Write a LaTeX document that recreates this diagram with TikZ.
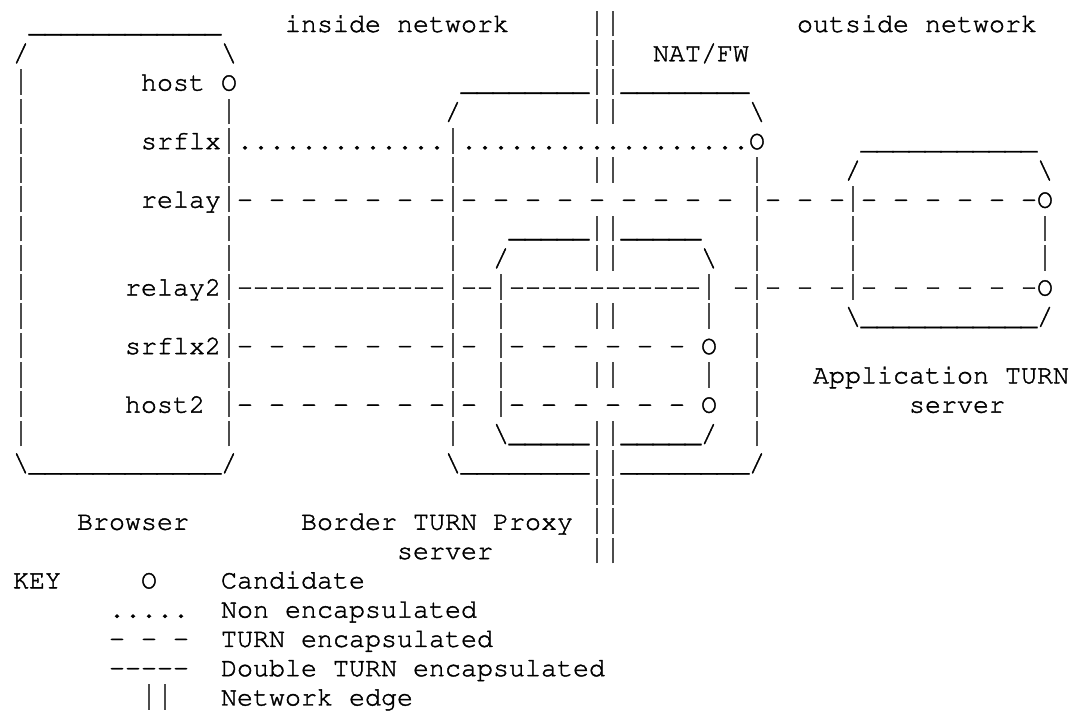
\documentclass[tikz,border=0pt]{standalone}
\usepackage[T1,TU]{fontenc}
\usepackage{tikz}
\newcommand\asciifont{\fontencoding{T1}\fontfamily{pcr}\fontseries{m}\fontshape{n}\fontsize{20}{22}\selectfont
  \special{pdf:code 2 Tr 0.3 w}}
\tikzset{
  ascii/.style={anchor=base west,inner sep=0pt,outer sep=0pt,font=\asciifont},
  bar/.style={draw=black!70,line width=1.5pt},
}

\begin{document}
\begin{tikzpicture}[x=12pt,y=-21.96pt]
  \path[fill=white,use as bounding box] (0pt,0pt) rectangle (807.75pt,-533.25pt);
  \begin{scope}[shift={(9.75pt,-2.04pt)}]
  % headings
  \node[ascii] (inside) at (17,1) {inside network};
  \node[ascii] (outside) at (49,1) {outside network};
  \node[ascii] (natfw) at (40,2) {NAT/FW};
  % network edge
  \foreach \r in {1,2,3,4,6,8,9,11,13,15,16,17,18,19}
    \foreach \c in {36,37}
      \draw[bar] (\c,\r) ++(6pt,-3.3pt) -- ++(0,19.3pt);
  % vertical sides
  \foreach \c/\a/\b in {0/3/15,13/4/15,27/5/15,30/10/14,46/6/15,52/7/10,64/8/9}
    \foreach \r in {\a,...,\b}
      \draw[bar] (\c,\r) ++(6pt,-3.3pt) -- ++(0,19.3pt);
  \foreach \r in {10,11,13}
    \draw[bar] (43,\r) ++(6pt,-3.3pt) -- ++(0,19.3pt);
  % tops and bottoms
  \foreach \a/\b/\r in {1/12/1,28/35/3,38/45/3,53/63/5,31/35/8,38/42/8,
                        53/63/11,31/35/15,38/42/15,1/12/16,28/35/16,38/45/16}
    \foreach \c in {\a,...,\b} \node[ascii] at (\c,\r) {\_};
  \foreach \c/\r in {0/2,27/4,52/6,30/9,64/11,43/15,13/16,46/16}
    \node[ascii] at (\c,\r) {/};
  \foreach \c/\r in {13/2,46/4,64/6,43/9,52/11,30/15,0/16,27/16}
    \node[ascii] at (\c,\r) {\textbackslash};
  % candidates
  \node[ascii] (host) at (8,3) {host};
  \node[ascii] (srflx) at (8,5) {srflx};
  \node[ascii] (relay) at (8,7) {relay};
  \node[ascii] (relaytwo) at (7,10) {relay2};
  \node[ascii] (srflxtwo) at (7,12) {srflx2};
  \node[ascii] (hosttwo) at (7,14) {host2};
  \foreach \c/\r in {13/3,46/5,64/7,64/10,43/12,43/14}
    \node[ascii] at (\c,\r) {O};
  % non encapsulated
  \foreach \c in {14,...,26,28,29,...,45} \node[ascii] at (\c,5) {.};
  % turn encapsulated
  \foreach \c in {14,16,...,26,28,30,...,44,47,49,51,53,55,...,63}
    \node[ascii] at (\c,7) {-};
  \foreach \c in {45,47,49,51,53,55,...,63} \node[ascii] at (\c,10) {-};
  \foreach \r in {12,14}
    \foreach \c in {14,16,...,26,28,31,33,...,41} \node[ascii] at (\c,\r) {-};
  % double turn encapsulated
  \foreach \c in {14,...,26,28,29,31,32,...,42} \node[ascii] at (\c,10) {-};
  % server names
  \node[ascii] (browser) at (4,18) {Browser};
  \node[ascii] (proxy) at (18,18) {Border TURN Proxy};
  \node[ascii] (proxysrv) at (24,19) {server};
  \node[ascii] (appturn) at (50,13) {Application TURN};
  \node[ascii] (appsrv) at (56,14) {server};
  % key
  \node[ascii] (key) at (0,20) {KEY};
  \node[ascii] at (8,20) {O};
  \foreach \c in {6,...,10} \node[ascii] at (\c,21) {.};
  \foreach \c in {6,8,10} \node[ascii] at (\c,22) {-};
  \foreach \c in {6,...,10} \node[ascii] at (\c,23) {-};
  \foreach \c in {8,9} \draw[bar] (\c,24) ++(6pt,-3.3pt) -- ++(0,19.3pt);
  \node[ascii] (kcand) at (13,20) {Candidate};
  \node[ascii] (knon) at (13,21) {Non encapsulated};
  \node[ascii] (kturn) at (13,22) {TURN encapsulated};
  \node[ascii] (kdouble) at (13,23) {Double TURN encapsulated};
  \node[ascii] (kedge) at (13,24) {Network edge};
  \end{scope}
\end{tikzpicture}
\end{document}
